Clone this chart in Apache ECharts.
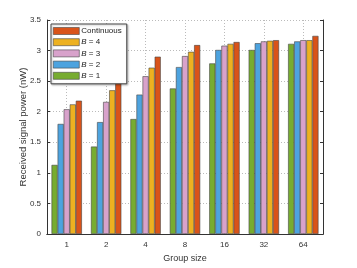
<!DOCTYPE html>
<html><head><meta charset="utf-8">
<script src="https://cdn.jsdelivr.net/npm/echarts@6/dist/echarts.min.js"></script>
<style>html,body{margin:0;padding:0;background:#fff}#c{width:357px;height:268px}</style>
</head><body><div id="c"></div>
<script>
const categories = ['1','2','4','8','16','32','64'];
const seriesNames = ['B = 1','B = 2','B = 3','B = 4','Continuous'];
const b1 = [1.13, 1.43, 1.88, 2.38, 2.79, 3.01, 3.11];
const b2 = [1.80, 1.83, 2.28, 2.73, 3.01, 3.12, 3.15];
const b3 = [2.04, 2.16, 2.58, 2.91, 3.08, 3.15, 3.17];
const b4 = [2.12, 2.35, 2.72, 2.98, 3.11, 3.16, 3.17];
const cont = [2.18, 2.58, 2.90, 3.09, 3.14, 3.17, 3.24];
const colors = ['#77AC30','#4DA3DF','#D8A2CB','#EDB120','#D95319'];
const dataSets = [b1,b2,b3,b4,cont];

const chart = echarts.init(document.getElementById('c'));
const font = 'Liberation Sans, Arial, sans-serif';
const dotted = {show:true, lineStyle:{color:'#bbb', type:[1,2], width:1}};
const series = dataSets.map((d,i)=>({
  name: seriesNames[i], type:'bar', data:d, xAxisIndex:0, yAxisIndex:0,
  barGap:'0%', barCategoryGap:'23%',
  itemStyle:{color:colors[i], borderColor:'#444', borderWidth:0.6},
  z: 3
}));
chart.setOption({
  animation:false,
  textStyle:{fontFamily:font},
  grid:{left:47, right:34, top:20, bottom:30, containLabel:false},
  legend:{
    data:['Continuous','B = 4','B = 3','B = 2','B = 1'],
    orient:'vertical', left:51, top:24,
    backgroundColor:'#fff', borderColor:'#444', borderWidth:1,
    padding:[3,5,4,2], itemWidth:26, itemHeight:7, itemGap:3.2,
    icon:'rect',
    shadowColor:'rgba(0,0,0,0.25)', shadowBlur:2, shadowOffsetX:1, shadowOffsetY:1,
    itemStyle:{borderColor:'#444', borderWidth:0.6},
    textStyle:{fontSize:8, lineHeight:7, color:'#222', fontFamily:font, padding:[0,0,0,-3],
      rich:{i:{fontStyle:'italic', fontSize:8, lineHeight:7, color:'#222', fontFamily:font}}},
    formatter: n => n.startsWith('B') ? '{i|B}' + n.slice(1) : n
  },
  xAxis:[{
    type:'category', data:categories, position:'bottom',
    name:'Group size', nameLocation:'middle', nameGap:20, nameMoveOverlap:false,
    nameTextStyle:{fontSize:9, color:'#333'},
    axisLine:{lineStyle:{color:'#333'}},
    axisTick:{inside:true, alignWithLabel:true, length:3, lineStyle:{color:'#333'}},
    axisLabel:{fontSize:8, color:'#333', margin:7},
    splitLine:Object.assign({alignWithLabel:true}, dotted)
  },{
    type:'category', data:categories, position:'top',
    axisLine:{lineStyle:{color:'#333'}},
    axisTick:{inside:true, alignWithLabel:true, length:3, lineStyle:{color:'#333'}},
    axisLabel:{show:false}, splitLine:{show:false}
  }],
  yAxis:[{
    type:'value', min:0, max:3.5, interval:0.5, position:'left',
    name:'Received signal power (nW)', nameLocation:'middle', nameGap:19, nameMoveOverlap:false,
    nameTextStyle:{fontSize:9.5, color:'#333'},
    axisLine:{show:true, lineStyle:{color:'#333'}},
    axisTick:{show:true, inside:true, length:3, lineStyle:{color:'#333'}},
    axisLabel:{fontSize:8, color:'#333', margin:6},
    splitLine:dotted
  },{
    type:'value', min:0, max:3.5, interval:0.5, position:'right',
    axisLine:{show:true, lineStyle:{color:'#333'}},
    axisTick:{show:true, inside:true, length:3, lineStyle:{color:'#333'}},
    axisLabel:{show:false}, splitLine:{show:false}
  }],
  series: series
});
</script></body></html>
